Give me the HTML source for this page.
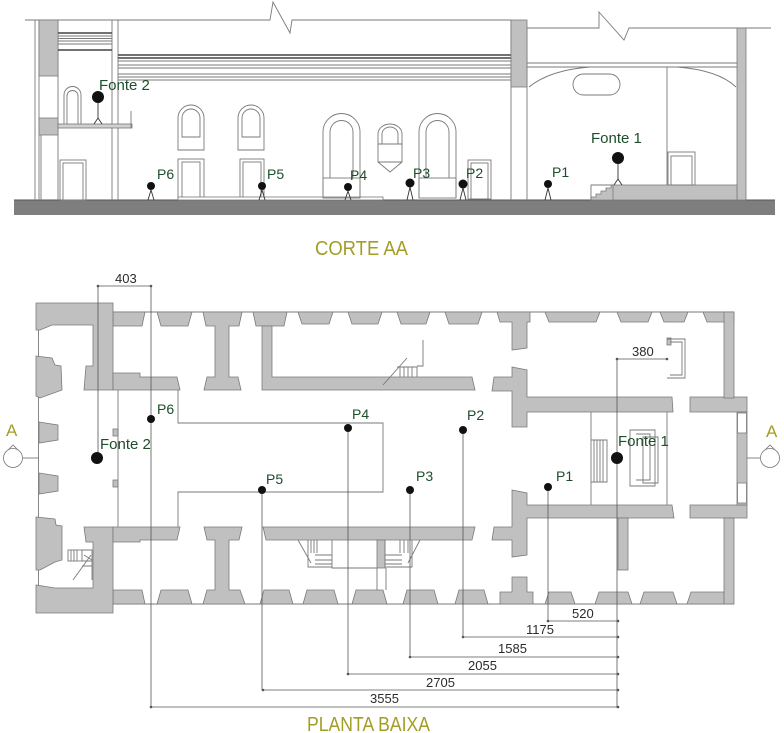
<!DOCTYPE html>
<html><head><meta charset="utf-8"><style>
html,body{margin:0;padding:0;background:#fff;}
svg{display:block;}
text{font-family:"Liberation Sans",sans-serif;}
.l{fill:none;stroke:#7a7a7a;stroke-width:0.9}
.k{fill:none;stroke:#444;stroke-width:1.4}
.g{fill:#c0c0c0;stroke:#7a7a7a;stroke-width:0.8}
.d{fill:none;stroke:#555;stroke-width:0.8}
.lb{fill:#1e4d2b;font-size:14px}
.fn{fill:#1e4d2b;font-size:15px}
.nm{fill:#2b2b2b;font-size:13px}
.ti{fill:#a39d26;font-size:20px}
.fg{stroke:#333;stroke-width:0.9;fill:none}
</style></head><body>
<svg width="784" height="733" viewBox="0 0 784 733" xmlns="http://www.w3.org/2000/svg">

<!-- ============ CORTE AA (section) ============ -->
<rect x="14" y="200" width="761" height="15" fill="#7e7e7e"/>
<line x1="14" y1="200" x2="775" y2="200" stroke="#555" stroke-width="1"/>

<path class="l" d="M25,20 H270 L273,2 L290,33 L292,20 H511"/>
<line class="l" x1="35" y1="20" x2="35" y2="200"/>
<line class="l" x1="39" y1="20" x2="39" y2="200"/>
<line class="l" x1="41" y1="135" x2="41" y2="200"/>
<line class="l" x1="58" y1="20" x2="58" y2="200"/>
<line class="l" x1="112" y1="20" x2="112" y2="200"/>
<line class="l" x1="118" y1="20" x2="118" y2="200"/>
<line class="l" x1="511" y1="20" x2="511" y2="200"/>
<line class="l" x1="527" y1="28" x2="527" y2="200"/>
<rect class="g" x="39" y="20" width="19" height="56"/>
<rect class="g" x="39" y="118" width="19" height="17"/>

<!-- left room cornice -->
<line class="k" x1="58" y1="33" x2="112" y2="33"/>
<line class="l" x1="58" y1="36" x2="112" y2="36"/>
<line class="l" x1="58" y1="38.5" x2="112" y2="38.5"/>
<line class="l" x1="58" y1="41" x2="112" y2="41"/>
<line class="l" x1="58" y1="44" x2="112" y2="44"/>
<line class="k" x1="58" y1="50" x2="112" y2="50"/>
<!-- main cornice -->
<line class="k" x1="118" y1="55" x2="511" y2="55"/>
<line class="k" x1="118" y1="58" x2="511" y2="58"/>
<line class="l" x1="118" y1="61" x2="511" y2="61"/>
<line class="l" x1="118" y1="65" x2="511" y2="65"/>
<line class="l" x1="118" y1="68" x2="511" y2="68"/>
<line class="l" x1="118" y1="74" x2="511" y2="74"/>
<line class="l" x1="118" y1="77" x2="511" y2="77"/>
<line class="l" x1="118" y1="80" x2="511" y2="80"/>

<!-- balcony -->
<rect x="58" y="124" width="74" height="4" fill="#d0d0d0" stroke="#777" stroke-width="0.8"/>
<line class="l" x1="131" y1="111" x2="131" y2="128"/>
<path class="l" d="M64,124 V95 A8.5,8.5 0 0 1 81,95 V124 M67,124 V96 A5.5,5.5 0 0 1 78,96 V124"/>
<!-- left room door -->
<rect class="l" x="60" y="160" width="26" height="40"/>
<rect class="l" x="63" y="163" width="20" height="37"/>

<!-- hall windows -->
<path class="l" d="M178,150 V118 A13,13 0 0 1 204,118 V150 Z M182,137 V118 A9,9 0 0 1 200,118 V137 Z"/>
<path class="l" d="M238,150 V118 A13,13 0 0 1 264,118 V150 Z M242,137 V118 A9,9 0 0 1 260,118 V137 Z"/>
<rect class="l" x="178" y="159" width="26" height="39"/>
<rect class="l" x="182" y="162" width="18" height="36"/>
<rect class="l" x="240" y="159" width="24" height="39"/>
<rect class="l" x="243" y="162" width="18" height="36"/>
<rect x="178" y="197" width="205" height="3" fill="#fff" stroke="#777" stroke-width="0.8"/>

<!-- tall arched windows -->
<path class="l" d="M323,198 V132 A18.5,18.5 0 0 1 360,132 V198 M330,178 V132 A11.5,11.5 0 0 1 353,132 V178"/>
<rect class="l" x="323" y="178" width="37" height="20"/>
<path class="l" d="M419,198 V132 A18.5,18.5 0 0 1 456,132 V198 M426,178 V132 A11.5,11.5 0 0 1 449,132 V178"/>
<rect class="l" x="419" y="178" width="37" height="20"/>
<!-- shield -->
<path class="l" d="M378,162 V134 A12,10 0 0 1 402,134 V162 L390,172 Z M382,144 V134 A8,7 0 0 1 398,134 V144 M378,144 H402 M378,162 H402"/>
<!-- P2 door -->
<rect class="l" x="468" y="160" width="23" height="39"/>
<rect class="l" x="471" y="163" width="17" height="36"/>

<rect class="g" x="511" y="20" width="16" height="67"/>

<!-- right room -->
<path class="l" d="M527,28 H599 V12 L624,40 L629,28 H771"/>
<line class="l" x1="527" y1="63" x2="737" y2="63"/>
<line class="l" x1="527" y1="67" x2="737" y2="67"/>
<path class="l" d="M529,87 Q550,70 590,67 M677,67 Q718,70 736,87"/>
<line class="l" x1="667" y1="67" x2="667" y2="185"/>
<rect class="l" x="573" y="74" width="47" height="21" rx="10.5"/>
<rect class="g" x="737" y="28" width="9" height="172"/>
<rect class="g" x="591" y="185" width="146" height="15"/>
<path d="M591,185 H613 V200 H591 Z" fill="#fff" stroke="none"/>
<path d="M591,200 V197 H596 V194 H601 V191 H606 V188 H611 V185 H613 V200 Z" fill="#c0c0c0" stroke="#7a7a7a" stroke-width="0.8"/>
<line class="l" x1="591" y1="185" x2="591" y2="200"/>
<line class="l" x1="591" y1="185" x2="613" y2="185"/>
<rect class="l" x="668" y="152" width="27" height="33"/>
<rect class="l" x="671" y="156" width="21" height="29"/>

<!-- figures (section) -->
<g class="fg">
<path d="M98,103 V118 L94,124 M98,118 L102,124"/>
<path d="M618,164 V179 L614,185 M618,179 L622,185"/>
<path d="M151,190 L148,200 M151,190 L154,200"/>
<path d="M262,190 L259,200 M262,190 L265,200"/>
<path d="M348,191 L345,200 M348,191 L351,200"/>
<path d="M410,187 L407,200 M410,187 L413,200"/>
<path d="M463,188 L460,200 M463,188 L466,200"/>
<path d="M548,188 L545,200 M548,188 L551,200"/>
</g>
<g fill="#111">
<circle cx="98" cy="97" r="6"/>
<circle cx="618" cy="158" r="6"/>
<circle cx="151" cy="186" r="4"/>
<circle cx="262" cy="186" r="4"/>
<circle cx="348" cy="187" r="4"/>
<circle cx="410" cy="183" r="4.5"/>
<circle cx="463" cy="184" r="4.5"/>
<circle cx="548" cy="184" r="4"/>
</g>
<text class="fn" x="99" y="90">Fonte 2</text>
<text class="fn" x="591" y="143">Fonte 1</text>
<text class="lb" x="157" y="179">P6</text>
<text class="lb" x="267" y="179">P5</text>
<text class="lb" x="350" y="180">P4</text>
<text class="lb" x="413" y="178">P3</text>
<text class="lb" x="466" y="178">P2</text>
<text class="lb" x="552" y="177">P1</text>

<text class="ti" x="315" y="255" textLength="93" lengthAdjust="spacingAndGlyphs">CORTE AA</text>

<!-- ============ PLANTA BAIXA (plan) ============ -->
<!-- outer lines -->
<line class="l" x1="113" y1="312" x2="734" y2="312"/>
<line class="l" x1="113" y1="604" x2="734" y2="604"/>
<line class="l" x1="38.5" y1="303" x2="38.5" y2="613"/>

<!-- top wall trapezoids -->
<g class="g">
<polygon points="113,312 145,312 142,326 113,326"/>
<polygon points="157,312 192,312 188,326 161,326"/>
<polygon points="253,312 287,312 284,326 256,326"/>
<polygon points="298,312 333,312 329,324 302,324"/>
<polygon points="348,312 382,312 378,324 352,324"/>
<polygon points="397,312 430,312 426,324 401,324"/>
<polygon points="445,312 482,312 478,324 449,324"/>
<polygon points="545,312 600,312 596,322 549,322"/>
<polygon points="617,312 652,312 648,322 621,322"/>
<polygon points="660,312 688,312 684,322 664,322"/>
<polygon points="703,312 734,312 734,322 707,322"/>
<!-- bottom wall trapezoids -->
<polygon points="113,590 142,590 145,604 113,604"/>
<polygon points="161,590 188,590 192,604 157,604"/>
<polygon points="264,590 289,590 293,604 260,604"/>
<polygon points="307,590 334,590 338,604 303,604"/>
<polygon points="356,590 383,590 387,604 352,604"/>
<polygon points="407,590 434,590 438,604 403,604"/>
<polygon points="459,590 484,590 488,604 455,604"/>
<polygon points="549,592 571,592 575,604 545,604"/>
<polygon points="599,592 628,592 632,604 595,604"/>
<polygon points="644,592 673,592 677,604 640,604"/>
<polygon points="691,592 724,592 724,604 687,604"/>

<!-- left wing -->
<polygon points="36,303 113,303 113,390 84,390 86,366 93,366 93,325 52,325 40,330 36,330"/>
<polygon points="84,527 113,527 113,613 36,613 36,585 55,588 93,588 93,542 86,542"/>
<polygon points="36,356 52,358 55,365 61,366 62,390 40,398 36,396"/>
<polygon points="39,422 58,425 58,440 39,443"/>
<polygon points="39,473 58,476 58,491 39,494"/>
<polygon points="36,517 55,519 56,525 62,526 62,560 55,562 40,570 36,570"/>
<!-- left rooms bands -->
<polygon points="113,373 140,373 140,377 177,377 180,390 113,390"/>
<polygon points="113,527 180,527 177,540 140,540 140,542 113,542"/>
<rect x="113" y="429" width="5" height="7"/>
<rect x="113" y="480" width="5" height="7"/>
<!-- I piers -->
<polygon points="203,312 242,312 239,326 229,326 229,377 238,377 241,390 204,390 207,377 215,377 215,326 206,326"/>
<polygon points="204,527 242,527 239,540 229,540 229,590 240,590 245,604 203,604 207,590 215,590 215,540 207,540"/>
<!-- big room upper -->
<polygon points="262,326 272,326 272,377 472,377 475,390 262,390"/>
<!-- big room lower band -->
<polygon points="263,527 475,527 472,540 266,540"/>
<rect x="377" y="540" width="8" height="28"/>
<!-- right wing piers -->
<polygon points="497,312 530,312 530,322 527,322 527,348 512,350 512,322 500,322"/>
<polygon points="512,367 527,370 527,397 672,397 673,412 527,412 527,427 512,427 512,391 492,391 494,377 512,377"/>
<polygon points="512,490 527,493 527,505 672,505 674,518 527,518 527,555 512,557 512,540 492,540 494,527 512,527"/>
<polygon points="512,577 527,577 527,592 533,592 533,604 500,604 500,592 512,592"/>
<polygon points="690,397 747,397 747,412 690,412"/>
<polygon points="690,505 747,505 747,518 690,518"/>
<rect x="724" y="312" width="10" height="86"/>
<rect x="724" y="518" width="10" height="86"/>
<rect x="737" y="412" width="10" height="93"/>
<rect x="618" y="518" width="10" height="52"/>
<rect x="667" y="338" width="4" height="7"/>
</g>
<rect x="737.5" y="413" width="9" height="20" fill="#fff" stroke="#7a7a7a" stroke-width="0.8"/>
<rect x="737.5" y="483" width="9" height="20" fill="#fff" stroke="#7a7a7a" stroke-width="0.8"/>

<!-- left wing stair -->
<rect class="l" x="68" y="550" width="14" height="11"/>
<path class="l" d="M71,550 V561 M74,550 V561 M77,550 V561 M82,550 H92 V580 M82,561 H92 M82,566 H92 M73,580 L91,555 M84,555 L92,560"/>

<!-- upper big room stair -->
<path class="l" d="M423,340 V366 H417 M397,367 H417 V377 M400,367 V377 M404,367 V377 M408,367 V377 M412,367 V377 M383,385 L407,358"/>
<!-- lower stairs -->
<path class="l" d="M308,540 V567 H332 V540 M311,540 V553 M314,540 V553 M317,540 V553 M315,555 H332 M315,560 H332 M315,564 H332 M298,540 L311,563 M332,540 V568 H377 M385,540 V567 H412 V540 M400,540 V553 M404,540 V553 M408,540 V553 M385,555 H402 M385,560 H402 M385,564 H402 M420,540 L408,563 M377,568 V590 M386,568 V590"/>

<!-- corridor outline -->
<path class="l" d="M178,390 V423 H383 V492 H178 V527"/>
<line class="l" x1="118" y1="390" x2="118" y2="527"/>
<!-- central right room -->
<line class="l" x1="591" y1="412" x2="591" y2="505"/>
<line class="l" x1="667" y1="412" x2="667" y2="505"/>
<path class="l" d="M591,440 H607 V482 H591 M594,440 V482 M597,440 V482 M600,440 V482 M603,440 V482"/>
<path class="l" d="M630,430 H655 V486 H630 Z M636,434 H650 V480 H636 M643,437 H658 V483 H643 Z"/>
<path class="l" d="M667,339 H685 V378 H667 M670,342 H682 V375 H670"/>

<!-- dimension lines -->
<g class="d">
<line x1="98" y1="286" x2="151" y2="286"/>
<line x1="98" y1="286" x2="98" y2="458"/>
<line x1="151" y1="286" x2="151" y2="708"/>
<line x1="617" y1="359" x2="667" y2="359"/>
<line x1="617" y1="359" x2="617" y2="708"/>
<line x1="262" y1="490" x2="262" y2="690"/>
<line x1="348" y1="428" x2="348" y2="674"/>
<line x1="410" y1="490" x2="410" y2="657"/>
<line x1="463" y1="430" x2="463" y2="637"/>
<line x1="548" y1="487" x2="548" y2="621"/>
<line x1="548" y1="621" x2="618" y2="621"/>
<line x1="463" y1="637" x2="618" y2="637"/>
<line x1="410" y1="657" x2="618" y2="657"/>
<line x1="348" y1="674" x2="618" y2="674"/>
<line x1="263" y1="690" x2="618" y2="690"/>
<line x1="151" y1="707" x2="618" y2="707"/>
</g>
<g fill="#555">
<circle cx="98" cy="286" r="1.3"/><circle cx="151" cy="286" r="1.3"/>
<circle cx="617" cy="359" r="1.3"/><circle cx="667" cy="359" r="1.3"/>
<circle cx="548" cy="621" r="1.3"/><circle cx="618" cy="621" r="1.3"/>
<circle cx="463" cy="637" r="1.3"/><circle cx="618" cy="637" r="1.3"/>
<circle cx="410" cy="657" r="1.3"/><circle cx="618" cy="657" r="1.3"/>
<circle cx="348" cy="674" r="1.3"/><circle cx="618" cy="674" r="1.3"/>
<circle cx="263" cy="690" r="1.3"/><circle cx="618" cy="690" r="1.3"/>
<circle cx="151" cy="707" r="1.3"/><circle cx="618" cy="707" r="1.3"/>
</g>
<text class="nm" x="115" y="283">403</text>
<text class="nm" x="632" y="356">380</text>
<text class="nm" x="572" y="618">520</text>
<text class="nm" x="526" y="634">1175</text>
<text class="nm" x="498" y="653">1585</text>
<text class="nm" x="468" y="670">2055</text>
<text class="nm" x="426" y="687">2705</text>
<text class="nm" x="370" y="703">3555</text>

<!-- plan points -->
<g fill="#111">
<circle cx="97" cy="458" r="6"/>
<circle cx="617" cy="458" r="6"/>
<circle cx="151" cy="419" r="4"/>
<circle cx="262" cy="490" r="4"/>
<circle cx="348" cy="428" r="4"/>
<circle cx="410" cy="490" r="4"/>
<circle cx="463" cy="430" r="4"/>
<circle cx="548" cy="487" r="4"/>
</g>
<text class="fn" x="100" y="449">Fonte 2</text>
<text class="fn" x="618" y="446">Fonte 1</text>
<text class="lb" x="157" y="414">P6</text>
<text class="lb" x="266" y="484">P5</text>
<text class="lb" x="352" y="419">P4</text>
<text class="lb" x="416" y="481">P3</text>
<text class="lb" x="467" y="420">P2</text>
<text class="lb" x="556" y="481">P1</text>

<!-- section markers -->
<text class="ti" x="6" y="436" style="font-size:17px">A</text>
<circle cx="13" cy="458" r="9.5" fill="#fff" stroke="#777" stroke-width="0.8"/>
<path d="M8,450 L13,445 L18,450" fill="none" stroke="#777" stroke-width="0.8"/>
<line class="l" x1="23" y1="458" x2="38" y2="458"/>
<text class="ti" x="766" y="437" style="font-size:17px">A</text>
<circle cx="770" cy="458" r="9.5" fill="#fff" stroke="#777" stroke-width="0.8"/>
<path d="M765,450 L770,445 L775,450" fill="none" stroke="#777" stroke-width="0.8"/>
<line class="l" x1="747" y1="458" x2="760" y2="458"/>

<text class="ti" x="307" y="731" textLength="123" lengthAdjust="spacingAndGlyphs">PLANTA BAIXA</text>
</svg>
</body></html>
